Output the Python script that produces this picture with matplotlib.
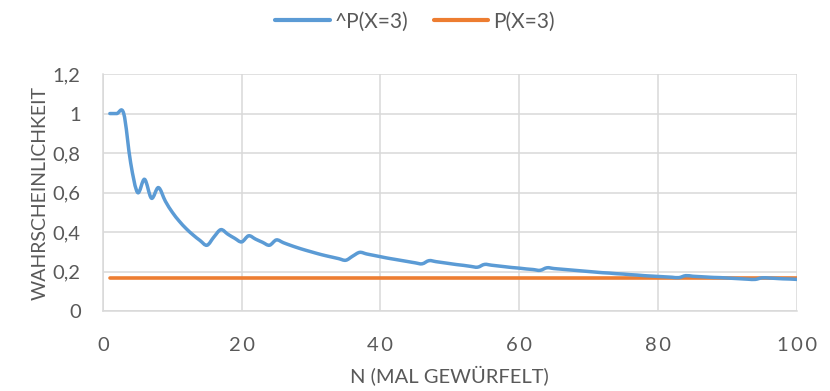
import matplotlib

matplotlib.use("Agg")
import matplotlib.pyplot as plt
import numpy as np
from matplotlib.lines import Line2D
from matplotlib.patches import PathPatch
from matplotlib.path import Path

# relative frequency of a "3" after n rolls of a die
n_rolls = list(range(1, 101))
p_hat = [
    1.000, 1.000, 1.000, 0.750, 0.600, 0.667, 0.571, 0.625, 0.556, 0.500,
    0.455, 0.417, 0.385, 0.357, 0.333, 0.375, 0.412, 0.389, 0.368, 0.350,
    0.381, 0.364, 0.348, 0.333, 0.360, 0.346, 0.333, 0.321, 0.310, 0.300,
    0.290, 0.281, 0.273, 0.265, 0.257, 0.278, 0.297, 0.289, 0.282, 0.275,
    0.268, 0.262, 0.256, 0.250, 0.244, 0.239, 0.255, 0.250, 0.245, 0.240,
    0.235, 0.231, 0.226, 0.222, 0.236, 0.232, 0.228, 0.224, 0.220, 0.217,
    0.213, 0.210, 0.206, 0.219, 0.215, 0.212, 0.209, 0.206, 0.203, 0.200,
    0.197, 0.194, 0.192, 0.189, 0.187, 0.184, 0.182, 0.179, 0.177, 0.175,
    0.173, 0.171, 0.169, 0.179, 0.176, 0.174, 0.172, 0.170, 0.169, 0.167,
    0.165, 0.163, 0.161, 0.160, 0.168, 0.167, 0.165, 0.163, 0.162, 0.160,
]
p_true = [1 / 6] * len(n_rolls)

x_ticks = [0, 20, 40, 60, 80, 100]
y_ticks = [0, 0.2, 0.4, 0.6, 0.8, 1.0, 1.2]

BLUE = "#5B9BD5"
ORANGE = "#ED7D31"
GREY_TEXT = "#595959"
GRID = "#D9D9D9"
FONT = ["Lato", "DejaVu Sans"]


def smooth_path(xs, ys, tension=1 / 6):
    """Catmull-Rom style smoothed path built from cubic Bezier segments."""
    pts = np.column_stack([xs, ys]).astype(float)
    padded = np.vstack([pts[0], pts, pts[-1]])
    verts = [pts[0]]
    codes = [Path.MOVETO]
    for i in range(len(pts) - 1):
        p0, p1, p2, p3 = padded[i], padded[i + 1], padded[i + 2], padded[i + 3]
        c1 = p1 + (p2 - p0) * tension
        c2 = p2 - (p3 - p1) * tension
        verts += [c1, c2, p2]
        codes += [Path.CURVE4] * 3
    return Path(verts, codes)


plt.rcParams["font.family"] = FONT

fig = plt.figure(figsize=(8.3, 3.91), dpi=100)
ax = fig.add_axes([0.124, 0.2046, 0.836, 0.606])

ax.plot(n_rolls, p_true, color=ORANGE, lw=2.6, solid_capstyle="round", zorder=3)
ax.add_patch(PathPatch(smooth_path(n_rolls, p_hat), fill=False, edgecolor=BLUE,
                       lw=2.5, capstyle="round", joinstyle="round", zorder=4))

ax.set_xlim(0, 100)
ax.set_ylim(0, 1.2)
ax.set_xticks(x_ticks)
ax.set_yticks(y_ticks)
ax.set_xticklabels(["\u2009".join(str(v)) for v in x_ticks])
ax.set_yticklabels([f"{v:g}".replace(".", ",") for v in y_ticks])
ax.tick_params(length=0, labelsize=14.5, colors=GREY_TEXT)
ax.tick_params(axis="x", pad=19)
ax.tick_params(axis="y", pad=16)

ax.grid(True, color=GRID, lw=1.1)
ax.set_axisbelow(True)
for side in ["top", "right"]:
    ax.spines[side].set_visible(False)
for side in ["left", "bottom"]:
    ax.spines[side].set_color(GRID)
    ax.spines[side].set_linewidth(1.1)

ax.set_xlabel("N (MAL GEWÜRFELT)", fontsize=14.5, color=GREY_TEXT, labelpad=8)
ax.set_ylabel("WAHRSCHEINLICHKEIT", fontsize=14, color=GREY_TEXT, labelpad=3)

handles = [
    Line2D([], [], color=BLUE, lw=3, solid_capstyle="round"),
    Line2D([], [], color=ORANGE, lw=3, solid_capstyle="round"),
]
fig.legend(handles, ["^P(X=3)", "P(X=3)"], loc="center", bbox_to_anchor=(0.5, 0.945),
           ncol=2, frameon=False, fontsize=15, labelcolor=GREY_TEXT,
           handlelength=2.6, handletextpad=0.25, columnspacing=1.2)

fig.savefig("out.png", dpi=100)
